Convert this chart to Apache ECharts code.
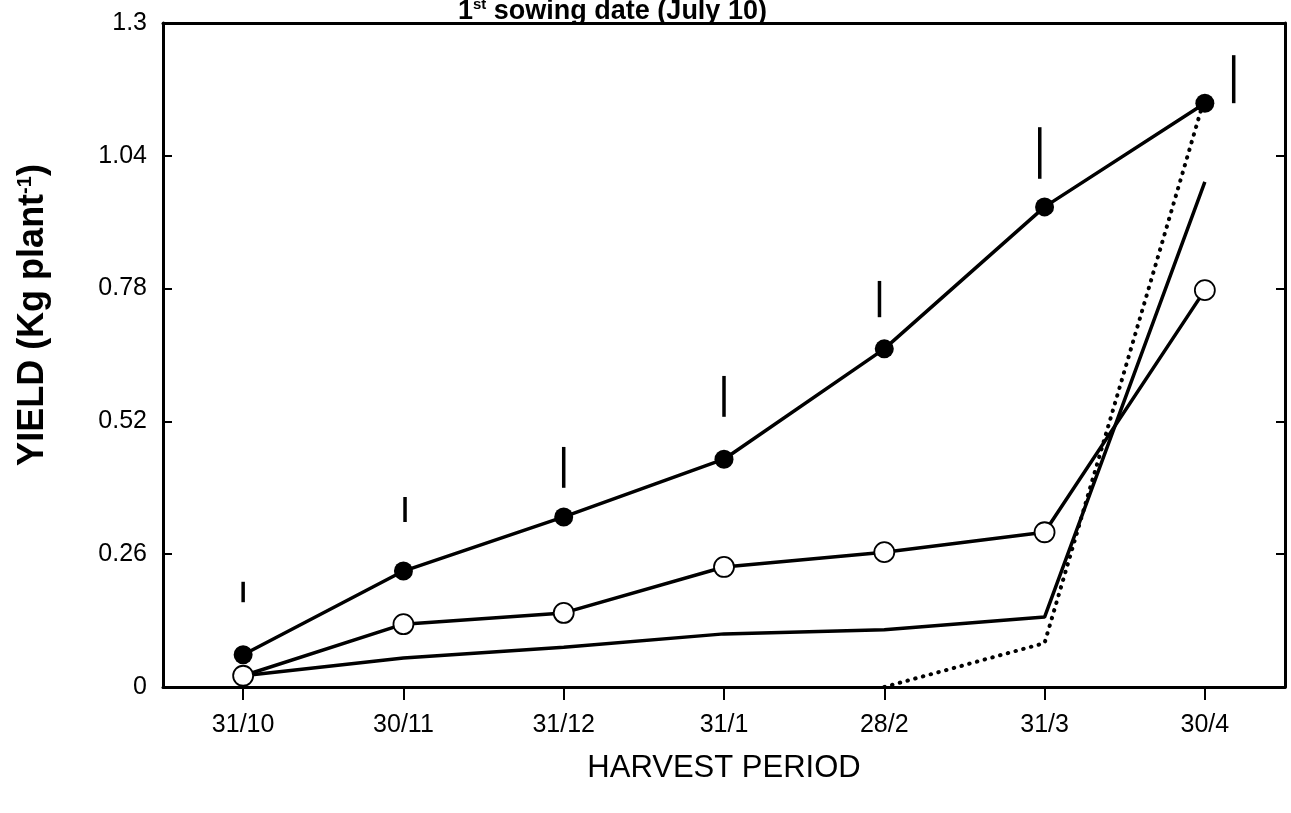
<!DOCTYPE html>
<html><head><meta charset="utf-8">
<script src="https://cdn.jsdelivr.net/npm/echarts@6/dist/echarts.min.js"></script>
<style>html,body{margin:0;padding:0;background:#fff}#c{width:1291px;height:813px}</style>
</head><body><div id="c"></div>
<script>
const categories = ['31/10','30/11','31/12','31/1','28/2','31/3','30/4'];
const yTickLabels = ['0','0.26','0.52','0.78','1.04','1.3'];
const filledSeries = [0.063, 0.227, 0.333, 0.446, 0.662, 0.940, 1.143];
const openSeries   = [0.022, 0.123, 0.145, 0.235, 0.264, 0.303, 0.777];
const plainSeries  = [0.022, 0.057, 0.078, 0.104, 0.112, 0.137, 0.989];
const dottedSeries = [null, null, null, null, 0.0, 0.086, 1.155];
const errX    = [0, 1.01, 2, 3, 3.97, 4.97, 6.18];
const errLow  = [0.166, 0.323, 0.390, 0.529, 0.724, 0.995, 1.143];
const errHigh = [0.206, 0.372, 0.470, 0.609, 0.795, 1.096, 1.237];

const chart = echarts.init(document.getElementById('c'), null, {renderer: 'canvas'});
const sans = '"Liberation Sans", Arial, Helvetica, sans-serif';
const axisLine = {show: true, onZero: false, lineStyle: {color: '#000', width: 3}};

const errData = errX.map((x, i) => [x, errLow[i], errHigh[i]]);

chart.setOption({
  animation: false,
  backgroundColor: '#fff',
  title: {
    text: '{n|1}{s|st}{n| sowing date (July 10)}',
    left: 453, top: -8,
    textStyle: {
      rich: {
        n: {fontFamily: sans, fontWeight: 'bold', fontSize: 27, color: '#000'},
        s: {fontFamily: sans, fontWeight: 'bold', fontSize: 15, color: '#000', verticalAlign: 'top', padding: [0,0,14,0]}
      }
    }
  },
  graphic: [{
    type: 'text', x: 33, y: 315, rotation: Math.PI / 2,
    style: {
      text: '{n|YIELD (Kg plant}{s|-1}{n|)}',
      align: 'center', verticalAlign: 'middle',
      rich: {
        n: {fontFamily: sans, fontWeight: 'bold', fontSize: 36, fill: '#000'},
        s: {fontFamily: sans, fontWeight: 'bold', fontSize: 20, fill: '#000', padding: [0,0,16,0]}
      }
    }
  }],
  grid: {left: 163, right: 6, top: 23, bottom: 126, containLabel: false},
  xAxis: [{
    type: 'category', data: categories, boundaryGap: true,
    axisLine: axisLine,
    axisTick: {show: true, alignWithLabel: true, inside: false, length: 13, lineStyle: {color: '#000', width: 2}},
    axisLabel: {color: '#000', fontFamily: sans, fontSize: 25, margin: 26},
    splitLine: {show: false},
    name: 'HARVEST PERIOD', nameLocation: 'middle', nameGap: 66,
    nameTextStyle: {color: '#000', fontFamily: sans, fontSize: 31}
  }, {
    type: 'value', min: -0.5, max: 6.5, position: 'top',
    axisLine: axisLine, axisTick: {show: false}, axisLabel: {show: false}, splitLine: {show: false}
  }],
  yAxis: [{
    type: 'value', min: 0, max: 1.3, interval: 0.26, position: 'left',
    axisLine: axisLine,
    axisTick: {show: true, inside: true, length: 9, lineStyle: {color: '#000', width: 2}},
    axisLabel: {color: '#000', fontFamily: sans, fontSize: 25, margin: 16,
      formatter: (v) => yTickLabels[Math.round(v / 0.26)]},
    splitLine: {show: false}
  }, {
    type: 'value', min: 0, max: 1.3, interval: 0.26, position: 'right',
    axisLine: axisLine,
    axisTick: {show: true, inside: true, length: 9, lineStyle: {color: '#000', width: 2}},
    axisLabel: {show: false}, splitLine: {show: false}
  }],
  series: [{
    type: 'line', data: plainSeries, showSymbol: false, symbol: 'none',
    lineStyle: {color: '#000', width: 3.5}, z: 2
  }, {
    type: 'line', data: dottedSeries, showSymbol: false, symbol: 'none', connectNulls: false,
    lineStyle: {color: '#000', width: 4, type: [0.5, 7.5], cap: 'round'}, z: 2
  }, {
    type: 'line', data: openSeries, symbol: 'circle', symbolSize: 20,
    itemStyle: {color: '#fff', borderColor: '#000', borderWidth: 1.8},
    lineStyle: {color: '#000', width: 3.5}, z: 3
  }, {
    type: 'line', data: filledSeries, symbol: 'circle', symbolSize: 19,
    itemStyle: {color: '#000', borderColor: '#000', borderWidth: 0},
    lineStyle: {color: '#000', width: 3.5}, z: 4
  }, {
    type: 'custom', xAxisIndex: 1, yAxisIndex: 0, data: errData,
    renderItem: function (params, api) {
      const p1 = api.coord([api.value(0), api.value(1)]);
      const p2 = api.coord([api.value(0), api.value(2)]);
      return {type: 'line', shape: {x1: p1[0], y1: p1[1], x2: p2[0], y2: p2[1]},
        style: {stroke: '#000', lineWidth: 3.5}};
    }, z: 5
  }]
});
</script>
</body></html>
